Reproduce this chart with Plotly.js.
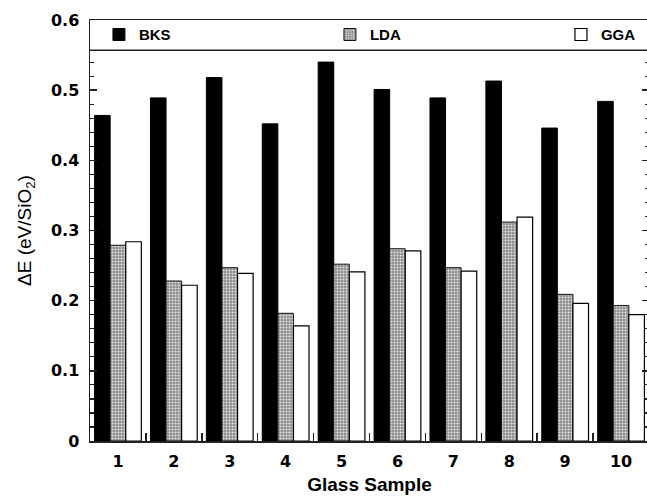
<!DOCTYPE html>
<html>
<head>
<meta charset="utf-8">
<script src="https://cdn.plot.ly/plotly-3.0.1.min.js"></script>
<style>html,body{margin:0;padding:0;overflow:hidden;background:#fff;}#chart{width:652px;height:496px;}</style>
</head>
<body>
<div id="chart"></div>
<script>
const samples = ["1","2","3","4","5","6","7","8","9","10"];
const bks = [0.464, 0.489, 0.518, 0.452, 0.540, 0.501, 0.489, 0.513, 0.446, 0.484];
const lda = [0.279, 0.228, 0.247, 0.182, 0.252, 0.274, 0.247, 0.312, 0.209, 0.193];
const gga = [0.284, 0.222, 0.239, 0.164, 0.241, 0.271, 0.242, 0.319, 0.196, 0.180];
const yMajor = [0, 0.1, 0.2, 0.3, 0.4, 0.5, 0.6];
const yMajorText = ["0", "0.1", "0.2", "0.3", "0.4", "0.5", "0.6"];
const yMinor = [0.02,0.04,0.06,0.08,0.12,0.14,0.16,0.18,0.22,0.24,0.26,0.28,0.32,0.34,0.36,0.38,0.42,0.44,0.46,0.48,0.52,0.54];
const legendBoxBottom = 0.557;

const lineCol = '#222';
const traces = [
  {type:'bar', name:'BKS', x:samples, y:bks, legendwidth:186,
   marker:{color:'#000', line:{color:'#000', width:1}}},
  {type:'bar', name:'LDA', x:samples, y:lda, legendwidth:186,
   marker:{color:'#aaa', line:{color:'#111', width:1},
           pattern:{shape:'.', fgcolor:'#e4e4e4', bgcolor:'#8e8e8e', size:3, solidity:0.35}}},
  {type:'bar', name:'GGA', x:samples, y:gga, legendwidth:40,
   marker:{color:'#fff', line:{color:'#000', width:1.2}}}
];

const layout = {
  width:652, height:496,
  margin:{l:90, r:3, t:20, b:55},
  paper_bgcolor:'#fff', plot_bgcolor:'#fff',
  barmode:'group', bargap:0.164, bargroupgap:0,
  showlegend:true,
  legend:{orientation:'h', x:0.016, xanchor:'left', y:0.965, yanchor:'middle',
          entrywidthmode:'pixels', traceorder:'normal',
          bgcolor:'rgba(0,0,0,0)', borderwidth:0,
          font:{family:'Liberation Sans, Arial, sans-serif', size:15, color:'#000', weight:'bold'}},
  xaxis:{type:'category', showline:true, linecolor:lineCol, linewidth:1.5, mirror:true,
         ticks:'inside', tickson:'boundaries', ticklen:8, tickwidth:1.5, tickcolor:lineCol,
         showgrid:false, zeroline:false, ticklabelstandoff:5,
         tickfont:{family:'DejaVu Sans, sans-serif', size:16, color:'#000', weight:'bold'},
         title:{text:'Glass Sample', standoff:8,
                font:{family:'Liberation Sans, Arial, sans-serif', size:19, color:'#000', weight:'bold'}}},
  yaxis:{range:[0,0.6], showline:true, linecolor:lineCol, linewidth:1.5, mirror:'allticks',
         tickmode:'array', tickvals:yMajor, ticktext:yMajorText,
         ticks:'inside', ticklen:7, tickwidth:1.5, tickcolor:lineCol,
         minor:{tickmode:'array', tickvals:yMinor, ticks:'inside', ticklen:4, tickwidth:1.2, tickcolor:lineCol},
         showgrid:false, zeroline:false, ticklabelstandoff:6,
         tickfont:{family:'DejaVu Sans, sans-serif', size:16, color:'#000', weight:'bold'},
         title:{text:'ΔE (eV/SiO<sub>2</sub>)', standoff:14,
                font:{family:'Liberation Sans, Arial, sans-serif', size:19, color:'#000'}}},
  shapes:[{type:'line', xref:'paper', x0:0, x1:1, yref:'y', y0:legendBoxBottom, y1:legendBoxBottom,
           line:{color:lineCol, width:1.5}}]
};

Plotly.newPlot('chart', traces, layout, {displayModeBar:false, staticPlot:true});
</script>
</body>
</html>
